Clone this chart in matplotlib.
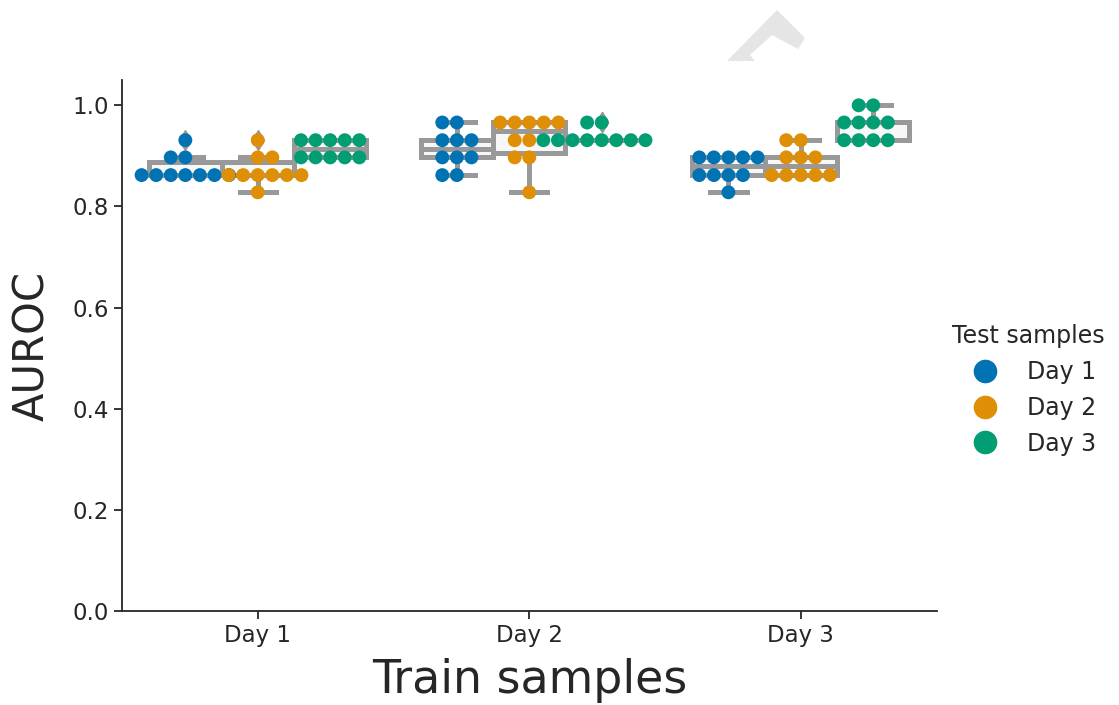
import numpy as np
import pandas as pd
import matplotlib
matplotlib.use("Agg")
import matplotlib.pyplot as plt
from matplotlib.lines import Line2D
from matplotlib.patches import Polygon
import seaborn as sns

# AUROC per cross-validation run, keyed by train day then test day
train_days = ['Day 1', 'Day 2', 'Day 3']
test_days = ['Day 1', 'Day 2', 'Day 3']

train1_test1 = [0.862, 0.862, 0.862, 0.862, 0.862, 0.862, 0.862, 0.897, 0.897, 0.931]
train1_test2 = [0.828, 0.862, 0.862, 0.862, 0.862, 0.862, 0.862, 0.897, 0.897, 0.931]
train1_test3 = [0.897, 0.897, 0.897, 0.897, 0.897, 0.931, 0.931, 0.931, 0.931, 0.931]

train2_test1 = [0.862, 0.862, 0.897, 0.897, 0.897, 0.931, 0.931, 0.931, 0.966, 0.966]
train2_test2 = [0.828, 0.897, 0.897, 0.931, 0.931, 0.966, 0.966, 0.966, 0.966, 0.966]
train2_test3 = [0.931, 0.931, 0.931, 0.931, 0.931, 0.931, 0.931, 0.931, 0.966, 0.966]

train3_test1 = [0.828, 0.862, 0.862, 0.862, 0.862, 0.897, 0.897, 0.897, 0.897, 0.897]
train3_test2 = [0.862, 0.862, 0.862, 0.862, 0.862, 0.897, 0.897, 0.897, 0.931, 0.931]
train3_test3 = [0.931, 0.931, 0.931, 0.931, 0.966, 0.966, 0.966, 0.966, 1.0, 1.0]

results = {
    'Day 1': [train1_test1, train1_test2, train1_test3],
    'Day 2': [train2_test1, train2_test2, train2_test3],
    'Day 3': [train3_test1, train3_test2, train3_test3],
}

rows = []
for train in train_days:
    for test, vals in zip(test_days, results[train]):
        for v in vals:
            rows.append({'Train samples': train, 'Test samples': test, 'AUROC': v})
df = pd.DataFrame(rows)

colors = ['#0173b2', '#de8f05', '#029e73']
text_color = '#262626'

plt.rcParams['font.family'] = ['DejaVu Sans']
plt.rcParams['text.color'] = text_color
plt.rcParams['axes.labelcolor'] = text_color
plt.rcParams['xtick.color'] = text_color
plt.rcParams['ytick.color'] = text_color

fig = plt.figure(figsize=(11.19, 7.05), dpi=100)
ax = fig.add_axes([0.109, 0.1333, 0.728, 0.7532])

sns.boxplot(data=df, x='Train samples', y='AUROC', hue='Test samples',
            order=train_days, hue_order=test_days,
            palette=['#f7f7f7'] * 3, saturation=1, linecolor='#999999',
            linewidth=3.6, fliersize=10, legend=False, ax=ax,
            flierprops=dict(marker='d', markerfacecolor='#999999',
                            markeredgecolor='#999999'))

sns.swarmplot(data=df, x='Train samples', y='AUROC', hue='Test samples',
              order=train_days, hue_order=test_days, palette=colors,
              dodge=True, size=10, legend=False, ax=ax, zorder=5)

ax.set_xlim(-0.5, 2.5)
ax.set_ylim(0, 1.05)
ax.set_yticks([0.0, 0.2, 0.4, 0.6, 0.8, 1.0])
ax.set_yticklabels(['0.0', '0.2', '0.4', '0.6', '0.8', '1.0'])
ax.tick_params(labelsize=16.5, length=6, width=1.3, colors=text_color)
ax.set_xlabel('Train samples', fontsize=33, labelpad=8)
ax.set_ylabel('AUROC', fontsize=30, labelpad=14)

for side in ['top', 'right']:
    ax.spines[side].set_visible(False)
for side in ['left', 'bottom']:
    ax.spines[side].set_color(text_color)
    ax.spines[side].set_linewidth(1.3)

handles = [Line2D([], [], marker='o', linestyle='none', markersize=16,
                  markerfacecolor=c, markeredgecolor=c) for c in colors]
fig.legend(handles, test_days, title='Test samples', loc='center left',
           bbox_to_anchor=(0.832, 0.447), frameon=False, fontsize=17,
           title_fontsize=17, labelspacing=0.5)

# light chevron mark above the plot area
pts = [(727, 61), (777, 10), (805, 38), (798, 49), (772, 35), (750, 55), (755, 61)]
fig.patches.append(Polygon([(x / 1119, (705 - y) / 705) for x, y in pts],
                           closed=True, transform=fig.transFigure,
                           facecolor='#e5e5e5', edgecolor='none'))

fig.savefig('out.png', dpi=100)
